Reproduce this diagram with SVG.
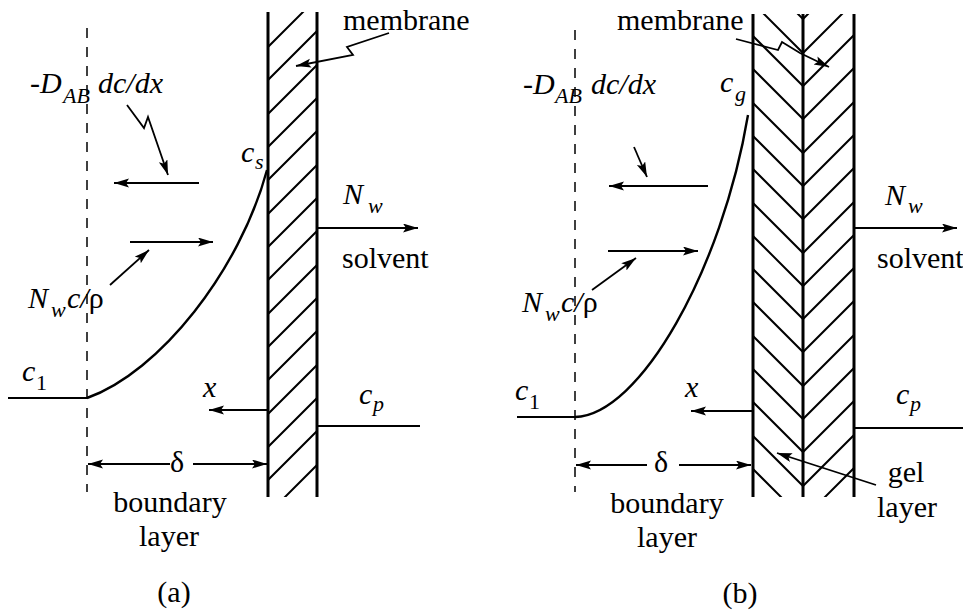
<svg xmlns="http://www.w3.org/2000/svg" width="963" height="615" viewBox="0 0 963 615">
<style>
text{font-family:"Liberation Serif","Times New Roman",serif;fill:#000;font-size:30px}
.i{font-style:italic}
.sub{font-size:22px}
.wall{stroke:#000;stroke-width:3;fill:none}
.hatch{stroke:#000;stroke-width:2;fill:none}
.ln{stroke:#000;stroke-width:1.8;fill:none}
.dash{stroke:#000;stroke-width:1.5;stroke-dasharray:10 9;fill:none}
.arr{stroke:#000;stroke-width:1.8;fill:none;marker-end:url(#ah)}
.curve{stroke:#000;stroke-width:2.4;fill:none}
</style>
<defs>
<marker id="ah" markerUnits="userSpaceOnUse" markerWidth="16" markerHeight="10" refX="15" refY="4.5" orient="auto">
<path d="M0,0 L15,4.5 L0,9 L3,4.5 z" fill="#000"/>
</marker>
<clipPath id="clipA"><rect x="268" y="12" width="49" height="485"/></clipPath>
<clipPath id="clipB"><rect x="753" y="14" width="101" height="483"/></clipPath>
</defs>
<rect width="963" height="615" fill="#fff"/>

<!-- Panel (a) -->
<g id="membrane-a">
<g clip-path="url(#clipA)" class="hatch">
<path d="M268,47 L317,-2 M268,80 L317,31 M268,114 L317,65 M268,147 L317,98 M268,180 L317,131 M268,214 L317,165 M268,247 L317,198 M268,280 L317,231 M268,314 L317,265 M268,347 L317,298 M268,380 L317,331 M268,414 L317,365 M268,447 L317,398 M268,480 L317,431 M268,514 L317,465"/>
</g>
<line class="wall" x1="268" y1="12" x2="268" y2="497"/>
<line class="wall" x1="317" y1="12" x2="317" y2="497"/>
</g>
<g id="boundary-edge-a">
<line class="dash" x1="87" y1="28" x2="87" y2="492"/>
</g>
<g id="profile-a">
<line class="ln" x1="8" y1="398" x2="87" y2="398"/>
<path class="curve" d="M87,398 C160,372 240,270 267,170"/>
</g>
<g id="labels-a">
<text x="30" y="93" class="i">-D</text>
<text x="63" y="103" class="i sub">AB</text>
<text x="98" y="93" class="i">dc/dx</text>
<text x="241" y="162" class="i">c</text>
<text x="255" y="169" class="i sub">s</text>
<text x="28" y="308" class="i">N</text>
<text x="51" y="317" class="i sub">w</text>
<text x="67" y="308"><tspan class="i">c/</tspan>ρ</text>
<text x="22" y="381" class="i">c</text>
<text x="36" y="390" class="sub">1</text>
<text x="203" y="397" class="i">x</text>
<text x="359" y="404" class="i">c</text>
<text x="373" y="411" class="i sub">p</text>
<text x="177" y="472" text-anchor="middle">δ</text>
<text x="343" y="30">membrane</text>
<text x="343" y="204" class="i">N</text>
<text x="368" y="213" class="i sub">w</text>
<text x="342" y="268">solvent</text>
<text x="170" y="512" text-anchor="middle">boundary</text>
<text x="169" y="546" text-anchor="middle">layer</text>
<text x="174" y="602" text-anchor="middle">(a)</text>
</g>

<!-- Panel (b) -->
<g id="gel-membrane-b">
<g clip-path="url(#clipB)" class="hatch">
<path d="M753,-31 L803,19 L854,-32 M753,3 L803,53 L854,2 M753,36 L803,86 L854,35 M753,69 L803,119 L854,68 M753,103 L803,153 L854,102 M753,136 L803,186 L854,135 M753,169 L803,219 L854,168 M753,203 L803,253 L854,202 M753,236 L803,286 L854,235 M753,269 L803,319 L854,268 M753,302 L803,352 L854,301 M753,336 L803,386 L854,335 M753,369 L803,419 L854,368 M753,402 L803,452 L854,401 M753,436 L803,486 L854,435 M753,469 L803,519 L854,468"/>
</g>
<line class="wall" x1="753" y1="14" x2="753" y2="497"/>
<line class="wall" x1="803" y1="14" x2="803" y2="497"/>
<line class="wall" x1="854" y1="14" x2="854" y2="497"/>
</g>
<g id="boundary-edge-b">
<line class="dash" x1="575" y1="30" x2="575" y2="492"/>
</g>
<g id="profile-b">
<line class="ln" x1="517" y1="417" x2="575" y2="417"/>
<path class="curve" d="M575,417 C640,415 722,270 748,115"/>
</g>
<g id="labels-b">
<text x="523" y="94" class="i">-D</text>
<text x="555" y="103" class="i sub">AB</text>
<text x="591" y="94" class="i">dc/dx</text>
<text x="720" y="92" class="i">c</text>
<text x="735" y="101" class="i sub">g</text>
<text x="522" y="312" class="i">N</text>
<text x="545" y="321" class="i sub">w</text>
<text x="561" y="312"><tspan class="i">c/</tspan>ρ</text>
<text x="515" y="400" class="i">c</text>
<text x="529" y="409" class="sub">1</text>
<text x="685" y="397" class="i">x</text>
<text x="896" y="404" class="i">c</text>
<text x="910" y="411" class="i sub">p</text>
<text x="661" y="472" text-anchor="middle">δ</text>
<text x="617" y="30">membrane</text>
<text x="885" y="205" class="i">N</text>
<text x="908" y="213" class="i sub">w</text>
<text x="877" y="268">solvent</text>
<text x="667" y="513" text-anchor="middle">boundary</text>
<text x="667" y="547" text-anchor="middle">layer</text>
<text x="906" y="482" text-anchor="middle">gel</text>
<text x="907" y="517" text-anchor="middle">layer</text>
<text x="740" y="603" text-anchor="middle">(b)</text>
</g>

<g id="connectors">
<!-- (a) -->
<path class="arr" d="M127,105 L144,128 L148,117 L168,175"/>
<line class="arr" x1="199" y1="183" x2="114" y2="183"/>
<line class="arr" x1="130" y1="242" x2="213" y2="242"/>
<line class="arr" x1="110" y1="285" x2="149" y2="250"/>
<line class="arr" x1="317" y1="228" x2="418" y2="228"/>
<path class="arr" d="M389,33 L347,47 L353,55 L296,66"/>
<line class="arr" x1="268" y1="410" x2="209" y2="410"/>
<line class="ln" x1="317" y1="426" x2="420" y2="426"/>
<line class="arr" x1="170" y1="464" x2="88" y2="464"/>
<line class="arr" x1="193" y1="464" x2="267" y2="464"/>
<!-- (b) -->
<line class="arr" x1="634" y1="147" x2="647" y2="177"/>
<line class="arr" x1="708" y1="186" x2="609" y2="186"/>
<line class="arr" x1="608" y1="251" x2="698" y2="251"/>
<line class="arr" x1="592" y1="290" x2="636" y2="258"/>
<line class="arr" x1="854" y1="228" x2="957" y2="228"/>
<path class="arr" d="M736,39 L778,50 L782,42 L800,53 L829,67"/>
<path class="arr" d="M876,485 L777,453"/>
<line class="arr" x1="752" y1="411" x2="691" y2="411"/>
<line class="ln" x1="854" y1="428" x2="963" y2="428"/>
<line class="arr" x1="647" y1="465" x2="576" y2="465"/>
<line class="arr" x1="679" y1="465" x2="751" y2="465"/>
</g>
</svg>
